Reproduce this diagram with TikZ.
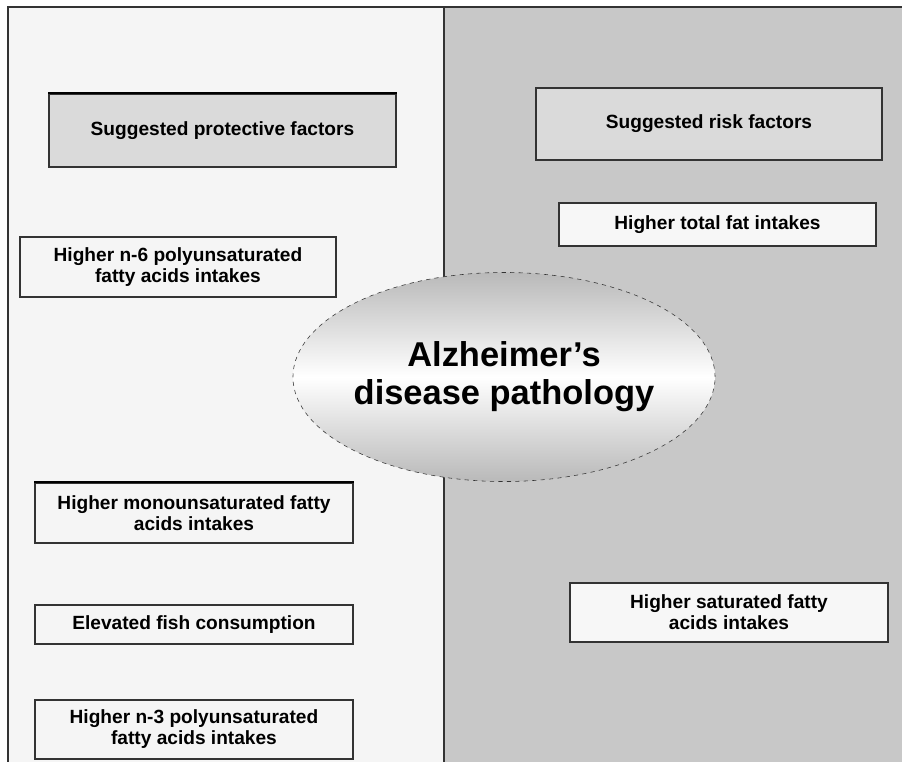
\documentclass[tikz,border=0pt]{standalone}
\usepackage{fontspec}
\setmainfont{Liberation Sans}
\usepackage{xcolor}
\usetikzlibrary{shapes.geometric}
\definecolor{leftbg}{HTML}{F5F5F5}
\definecolor{rightbg}{HTML}{C8C8C8}
\definecolor{headfill}{HTML}{DADADA}
\definecolor{edge}{HTML}{333333}

\tikzset{
  factorbox/.style={draw=edge, thick, fill=leftbg, rectangle, align=center,
    inner sep=0pt, font=\fontsize{13.6}{15}\selectfont\bfseries},
  headbox/.style={factorbox, fill=headfill},
  blob/.style={ellipse, draw=edge, dashed, thin, top color=gray!55,
    bottom color=gray!55, middle color=white, inner sep=0pt},
  blobtext/.style={align=center, font=\fontsize{24.5}{27}\selectfont\bfseries}
}

\begin{document}
\begin{tikzpicture}[x=0.025cm, y=-0.025cm]
% page and the two panels
\useasboundingbox (0,0) rectangle (902,762);
\fill[white] (0,0) rectangle (902,762);
\fill[leftbg] (8,7) rectangle (444,762);
\fill[rightbg] (444,7) rectangle (902,762);
\draw[edge, thick] (8,762) -- (8,7) -- (902,7);
\draw[edge, thick] (444,7) -- (444,762);

% headings
\node[headbox, minimum width=8.675cm, minimum height=1.825cm] (protect) at (222.5,130.5) {Suggested protective factors};
\draw[line width=1.4pt] (protect.north west) -- (protect.north east);
\node[headbox, minimum width=8.65cm, minimum height=1.8cm] (risk) at (709,124) {Suggested risk factors};

% central ellipse
\node[blob, minimum width=10.55cm, minimum height=5.225cm] (ad) at (504,377) {};
\node[blobtext] (adtext) at (ad.center) {Alzheimer's\\disease pathology};

% protective factors
\node[factorbox, minimum width=7.9cm, minimum height=1.5cm] (nsix) at (178,267) {Higher n-6 polyunsaturated\\fatty acids intakes};
\node[factorbox, minimum width=7.95cm, minimum height=1.5cm] (mufa) at (194,513) {Higher monounsaturated fatty\\acids intakes};
\draw[line width=1.4pt] (mufa.north west) -- (mufa.north east);
\node[factorbox, minimum width=7.95cm, minimum height=0.975cm] (fish) at (194,624.5) {Elevated fish consumption};
\node[factorbox, minimum width=7.95cm, minimum height=1.475cm] (nthree) at (194,729.5) {Higher n-3 polyunsaturated\\fatty acids intakes};

% risk factors
\node[factorbox, fill=white!97!black, minimum width=7.925cm, minimum height=1.075cm] (totfat) at (717.5,224.5) {Higher total fat intakes};
\node[factorbox, fill=white!97!black, minimum width=7.95cm, minimum height=1.475cm] (sfa) at (729,612.5) {Higher saturated fatty\\acids intakes};
\end{tikzpicture}
\end{document}
